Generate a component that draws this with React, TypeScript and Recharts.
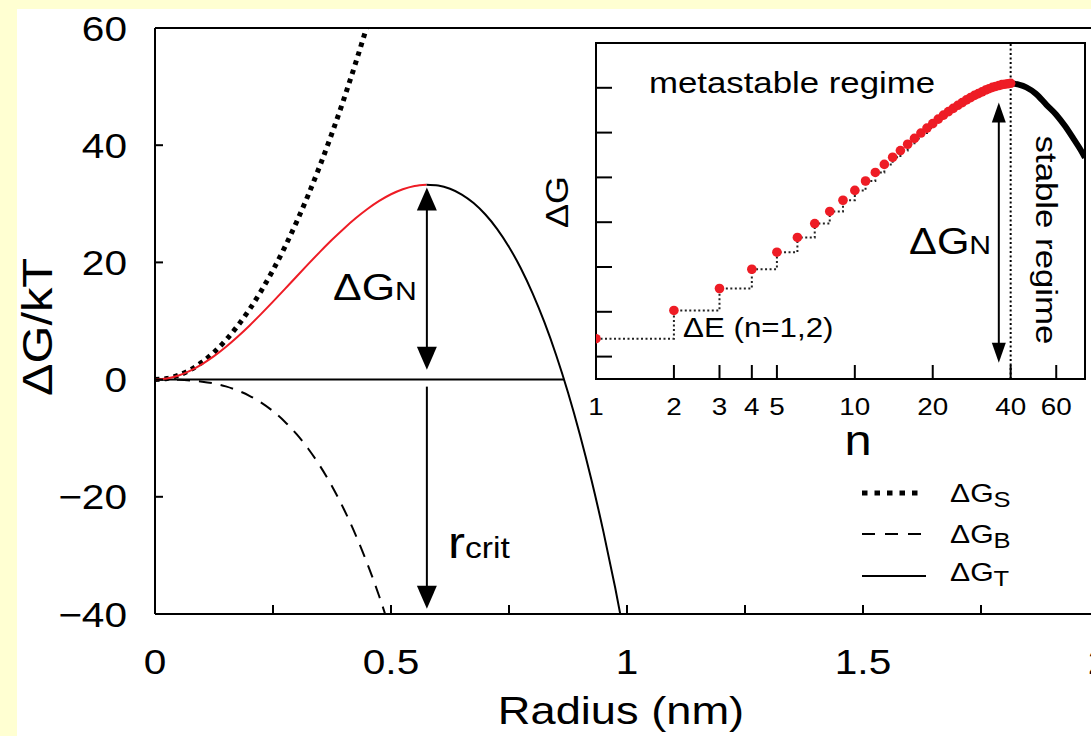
import React from "react";
import { LineChart, Line, XAxis, YAxis, ReferenceLine, ReferenceArea } from "recharts";

const FONT = "'Liberation Sans', Arial, Helvetica, sans-serif";
const SX = 1.16; // the figure's lettering is a bit wider than Arial
const RED = "#ee1c25";

// main panel: free energy (kT) against radius (nm)
const radius = [
  0, 0.025, 0.05, 0.075, 0.1, 0.125, 0.15, 0.175, 0.2, 0.225, 0.25, 0.275, 0.3, 0.325,
  0.35, 0.375, 0.4, 0.425, 0.45, 0.475, 0.5, 0.525, 0.55, 0.575, 0.6, 0.625, 0.65, 0.675,
  0.7, 0.725, 0.75, 0.775, 0.8, 0.825, 0.85, 0.875, 0.9, 0.925, 0.95, 0.975, 1.0,
];
const surfaceTerm = [
  0, 0.19, 0.75, 1.68, 2.99, 4.67, 6.73, 9.16, 11.96, 15.14, 18.69, 22.61, 26.91, 31.58,
  36.63, 42.05, 47.84, 54.01, 60.55, 67.46,
];
const bulkTerm = [
  0, -0.01, -0.04, -0.15, -0.35, -0.67, -1.16, -1.85, -2.76, -3.93, -5.39, -7.18, -9.32,
  -11.84, -14.79, -18.19, -22.08, -26.48, -31.44, -36.97, -43.13,
];
const totalEnergy = [
  0, 0.18, 0.7, 1.54, 2.65, 4.0, 5.56, 7.31, 9.2, 11.21, 13.3, 15.43, 17.6, 19.74, 21.84,
  23.86, 25.76, 27.52, 29.11, 30.49, 31.63, 32.49, 33.05, 33.27, 33.12, 32.57, 31.58, 30.13,
  28.17, 25.69, 22.64, 19.0, 14.72, 9.79, 4.16, -2.2, -9.32, -17.22, -25.94, -35.53, -46.0,
];
const radiusTicks = [0, 0.25, 0.5, 0.75, 1, 1.25, 1.5, 1.75, 2];
const energyTicks = [-40, -20, 0, 20, 40, 60];
const rPeak = 0.576;
const rZero = 0.867;
const peakG = 33.3;

// inset: free energy against cluster size n (log axis)
const clusterN = [
  1, 2, 3, 4, 5, 6, 7, 8, 9, 10, 11, 12, 13, 14, 15, 16, 17, 18, 19, 20, 21, 22, 23, 24, 25,
  26, 27, 28, 29, 30, 31, 32, 33, 34, 35, 36, 37, 38, 39, 40,
];
const clusterG = [
  4.0, 10.3, 15.2, 19.5, 23.3, 26.6, 29.7, 32.4, 34.9, 37.1, 39.2, 41.1, 42.9, 44.5, 46.0,
  47.4, 48.7, 49.9, 51.0, 52.0, 53.0, 53.9, 54.7, 55.4, 56.1, 56.7, 57.3, 57.8, 58.3, 58.7,
  59.1, 59.5, 59.8, 60.1, 60.3, 60.5, 60.7, 60.8, 60.9, 61.0,
];
const tailN = [40, 43, 46, 50, 55, 60, 65, 70, 75, 77.5];
const tailG = [61.0, 60.7, 60.1, 58.7, 56.2, 54.0, 51.4, 48.6, 45.9, 44.4];
const nTicks = [1, 2, 3, 4, 5, 10, 20, 40, 60];
const gTicks = [0, 10, 20, 30, 40, 50, 60];
const nMax = 77.5;

const mainRows = radius.map((r, i) => ({
  r,
  s: surfaceTerm[i] ?? null,
  b: bulkTerm[i] ?? null,
  red: r <= 0.575 ? totalEnergy[i] : null,
  black: r >= 0.575 ? totalEnergy[i] : null,
}));

const insetRows = [
  ...clusterN.map((n, i) => ({ n, g: clusterG[i], tail: n === 40 ? tailG[0] : null })),
  ...tailN.slice(1).map((n, i) => ({ n, g: null, tail: tailG[i + 1] })),
];

type TProps = {
  x: number;
  y: number;
  size: number;
  anchor?: "start" | "middle" | "end";
  rot?: number;
  children: React.ReactNode;
};

function T({ x, y, size, anchor = "start", rot = 0, children }: TProps) {
  return (
    <text
      transform={`translate(${x} ${y}) rotate(${rot}) scale(${SX} 1)`}
      fontFamily={FONT}
      fontSize={size}
      textAnchor={anchor}
      fill="#000"
    >
      {children}
    </text>
  );
}

const fmtR = (v: number) => String(v);
const fmtG = (v: number) => (v < 0 ? `\u2212${Math.abs(v)}` : String(v));

function MainXTick(props: any) {
  const { x, y, payload } = props;
  const v = payload.value as number;
  const major = Math.abs(v * 2 - Math.round(v * 2)) < 1e-6;
  return (
    <g>
      <line x1={x} y1={y} x2={x} y2={y - 9} stroke="#000" strokeWidth={2} />
      {major && (
        <T x={x} y={y + 60} size={35} anchor="middle">
          {fmtR(v)}
        </T>
      )}
    </g>
  );
}

function MainYTick(props: any) {
  const { x, y, payload } = props;
  return (
    <g>
      <line x1={x} y1={y} x2={x + 8} y2={y} stroke="#000" strokeWidth={2} />
      <T x={x - 28} y={y + 12.5} size={35} anchor="end">
        {fmtG(payload.value)}
      </T>
    </g>
  );
}

function InsetXTick(props: any) {
  const { x, y, payload } = props;
  return (
    <g>
      <line x1={x} y1={y} x2={x} y2={y - 14} stroke="#000" strokeWidth={2} />
      <T x={x} y={y + 36} size={24} anchor="middle">
        {String(payload.value)}
      </T>
    </g>
  );
}

function InsetYTick(props: any) {
  const { x, y } = props;
  return <line x1={x} y1={y} x2={x + 16} y2={y} stroke="#000" strokeWidth={2} />;
}

// double or single headed arrow drawn on a reference segment
const arrow = (both: boolean, w: number, len: number) => (p: any) => {
  const { x1, y1, x2, y2 } = p;
  const d = Math.hypot(x2 - x1, y2 - y1) || 1;
  const ux = (x2 - x1) / d;
  const uy = (y2 - y1) / d;
  const head = (tx: number, ty: number, dir: number) => {
    const bx = tx - dir * ux * len;
    const by = ty - dir * uy * len;
    return `${tx},${ty} ${bx - (uy * w) / 2},${by + (ux * w) / 2} ${bx + (uy * w) / 2},${by - (ux * w) / 2}`;
  };
  const sx = both ? x1 + ux * len * 0.8 : x1;
  const sy = both ? y1 + uy * len * 0.8 : y1;
  return (
    <g>
      <line
        x1={sx}
        y1={sy}
        x2={x2 - ux * len * 0.8}
        y2={y2 - uy * len * 0.8}
        stroke="#000"
        strokeWidth={2}
      />
      <polygon points={head(x2, y2, 1)} fill="#000" />
      {both && <polygon points={head(x1, y1, -1)} fill="#000" />}
    </g>
  );
};

const axisStyle = { stroke: "#000", strokeWidth: 2 };

export default function App() {
  return (
    <div
      style={{
        position: "fixed",
        left: 0,
        top: 0,
        width: 1091,
        height: 736,
        overflow: "hidden",
        background: "#ffffd2",
      }}
    >
      <div style={{ position: "absolute", left: 17, top: 9, right: 0, bottom: 0, background: "#fff" }} />

      <div style={{ position: "absolute", left: 0, top: 0 }}>
        <LineChart
          width={1150}
          height={736}
          data={mainRows}
          margin={{ top: 28, right: 51, bottom: 62, left: 95 }}
        >
          <XAxis
            dataKey="r"
            type="number"
            domain={[0, 2]}
            ticks={radiusTicks}
            interval={0}
            tick={<MainXTick />}
            tickSize={0}
            tickMargin={0}
            tickLine={false}
            axisLine={axisStyle}
            height={60}
          />
          <YAxis
            type="number"
            domain={[-40, 60]}
            ticks={energyTicks}
            interval={0}
            allowDataOverflow
            tick={<MainYTick />}
            tickSize={0}
            tickMargin={0}
            tickLine={false}
            axisLine={axisStyle}
            width={60}
          />
          <ReferenceLine y={60} stroke="#000" strokeWidth={2} />
          <ReferenceLine x={2} stroke="#000" strokeWidth={2} />
          <ReferenceLine
            segment={[
              { x: 0, y: 0 },
              { x: rZero, y: 0 },
            ]}
            stroke="#000"
            strokeWidth={2}
          />
          <Line
            dataKey="s"
            type="monotone"
            stroke="#000"
            strokeWidth={5}
            strokeDasharray="4.5 5"
            dot={false}
            isAnimationActive={false}
          />
          <Line
            dataKey="b"
            type="monotone"
            stroke="#000"
            strokeWidth={2}
            strokeDasharray="13 9"
            dot={false}
            isAnimationActive={false}
          />
          <Line
            dataKey="black"
            type="monotone"
            stroke="#000"
            strokeWidth={2}
            dot={false}
            isAnimationActive={false}
          />
          <Line
            dataKey="red"
            type="monotone"
            stroke={RED}
            strokeWidth={2}
            dot={false}
            isAnimationActive={false}
          />
          <ReferenceLine
            segment={[
              { x: rPeak, y: peakG - 0.5 },
              { x: rPeak, y: 1.7 },
            ]}
            shape={arrow(true, 20, 23)}
          />
          <ReferenceLine
            segment={[
              { x: rPeak, y: -1.2 },
              { x: rPeak, y: -39.1 },
            ]}
            shape={arrow(false, 20, 23)}
          />
        </LineChart>
      </div>

      <div style={{ position: "absolute", left: 540, top: 0 }}>
        <LineChart
          width={551}
          height={460}
          data={insetRows}
          margin={{ top: 43, right: 6, bottom: 21, left: 26 }}
        >
          <XAxis
            dataKey="n"
            type="number"
            scale="log"
            domain={[1, nMax]}
            allowDataOverflow
            ticks={nTicks}
            interval={0}
            tick={<InsetXTick />}
            tickSize={0}
            tickMargin={0}
            tickLine={false}
            axisLine={axisStyle}
            height={60}
          />
          <YAxis
            type="number"
            domain={[-5, 70]}
            allowDataOverflow
            ticks={gTicks}
            interval={0}
            tick={<InsetYTick />}
            tickSize={0}
            tickMargin={0}
            tickLine={false}
            axisLine={axisStyle}
            width={30}
          />
          <ReferenceArea
            x1={1}
            x2={nMax}
            y1={-5}
            y2={70}
            fill="none"
            stroke="#000"
            strokeWidth={2}
            ifOverflow="visible"
          />
          <ReferenceLine x={40} stroke="#000" strokeWidth={2} strokeDasharray="2 2.5" />
          <Line
            dataKey="g"
            stroke="none"
            dot={{ r: 4.8, fill: RED, stroke: "none" }}
            isAnimationActive={false}
          />
          <Line
            dataKey="g"
            type="stepAfter"
            stroke="#222"
            strokeWidth={2}
            strokeDasharray="2 2.5"
            dot={false}
            isAnimationActive={false}
          />
          <Line
            dataKey="tail"
            type="monotone"
            stroke="#000"
            strokeWidth={6}
            dot={false}
            isAnimationActive={false}
          />
          <ReferenceLine
            segment={[
              { x: 36, y: 56.7 },
              { x: 36, y: -1.4 },
            ]}
            shape={arrow(true, 14, 20)}
          />
        </LineChart>
      </div>

      <svg
        width={1091}
        height={736}
        style={{ position: "absolute", left: 0, top: 0, pointerEvents: "none" }}
      >
        {/* main panel lettering */}
        <T x={52} y={327} size={42} anchor="middle" rot={-90}>
          ΔG/kT
        </T>
        <T x={621} y={724} size={39} anchor="middle">
          Radius (nm)
        </T>
        <T x={333} y={300} size={37}>
          <tspan>ΔG</tspan>
          <tspan fontSize={26}>N</tspan>
        </T>
        <T x={448} y={558} size={44}>
          <tspan>r</tspan>
          <tspan fontSize={29}>crit</tspan>
        </T>

        {/* legend */}
        <line x1={862} y1={493} x2={922} y2={493} stroke="#000" strokeWidth={5} strokeDasharray="5.5 7" />
        <line x1={862} y1={534} x2={926} y2={534} stroke="#000" strokeWidth={2} strokeDasharray="13 10" />
        <line x1={862} y1={576} x2={926} y2={576} stroke="#000" strokeWidth={2} />
        <T x={950} y={502} size={26}>
          <tspan>ΔG</tspan>
          <tspan fontSize={22} dy={5}>S</tspan>
        </T>
        <T x={950} y={543} size={26}>
          <tspan>ΔG</tspan>
          <tspan fontSize={22} dy={5}>B</tspan>
        </T>
        <T x={950} y={581} size={26}>
          <tspan>ΔG</tspan>
          <tspan fontSize={22} dy={5}>T</tspan>
        </T>

        {/* inset lettering */}
        <T x={649} y={93} size={30}>
          metastable regime
        </T>
        <T x={683} y={337} size={27}>
          ΔE (n=1,2)
        </T>
        <T x={909} y={254} size={36}>
          <tspan>ΔG</tspan>
          <tspan fontSize={26}>N</tspan>
        </T>
        <T x={1036} y={240} size={30} anchor="middle" rot={90}>
          stable regime
        </T>
        <T x={568} y={202} size={31} anchor="middle" rot={-90}>
          ΔG
        </T>
        <T x={858} y={455} size={42} anchor="middle">
          n
        </T>
      </svg>
    </div>
  );
}
